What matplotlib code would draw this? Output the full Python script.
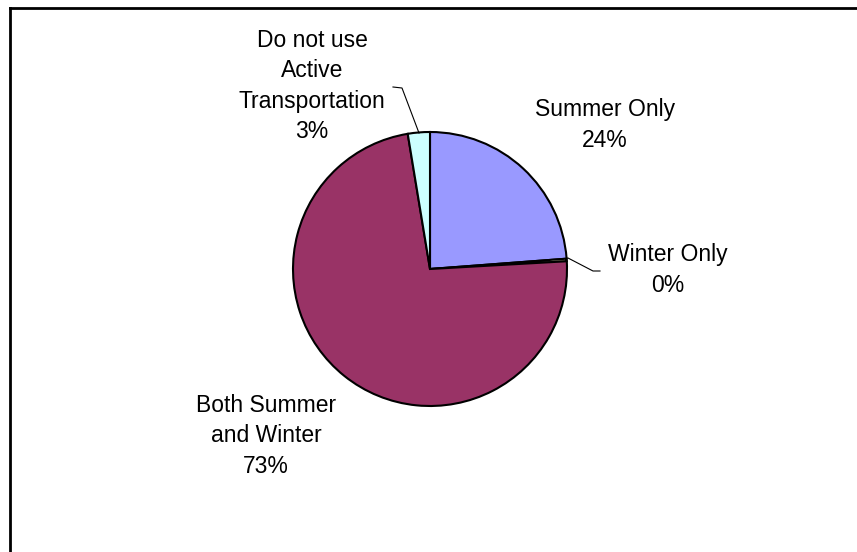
import matplotlib.pyplot as plt
from matplotlib.lines import Line2D

plt.rcParams['font.family'] = ['Liberation Sans', 'DejaVu Sans']

# Active transportation use by season (percent of respondents)
categories = ['Summer Only', 'Winter Only', 'Both Summer\nand Winter',
              'Do not use\nActive\nTransportation']
shares = [23.8, 0.3, 73.3, 2.6]
colors = ['#9999FF', '#FFFFCC', '#993366', '#CCFFFF']

W, H = 857, 552
fig = plt.figure(figsize=(W / 100, H / 100), dpi=100)
ax = fig.add_axes([0, 0, 1, 1])
ax.set_xlim(0, W)
ax.set_ylim(0, H)
ax.set_aspect('equal')
ax.axis('off')

# pie in pixel space
cx, cy, r = 430, H - 269, 137
ax.pie(shares, colors=colors, startangle=90, counterclock=False,
       center=(cx, cy), radius=r,
       wedgeprops=dict(edgecolor='black', linewidth=1.5))
ax.set_xlim(0, W)
ax.set_ylim(0, H)

# data labels
label_pos = [(605, H - 125), (668, H - 270), (266, H - 436), (312, H - 86)]
for name, val, (x, y) in zip(categories, shares, label_pos):
    ax.text(x, y, f'{name}\n{val:.0f}%', ha='center', va='center',
            multialignment='center', fontsize=16.5, linespacing=1.42)

# leader lines
ax.plot([568, 593, 600], [H - 258, H - 271, H - 271], color='black', lw=0.8)
ax.plot([393, 402, 419], [H - 87, H - 88, H - 133], color='black', lw=0.8)

# chart area border (top and left edges)
fig.add_artist(Line2D([10 / W, 1], [1 - 8 / H, 1 - 8 / H], color='black', lw=2))
fig.add_artist(Line2D([10 / W, 10 / W], [0, 1 - 8 / H], color='black', lw=2))

fig.savefig('out.png', dpi=100, facecolor='white')
